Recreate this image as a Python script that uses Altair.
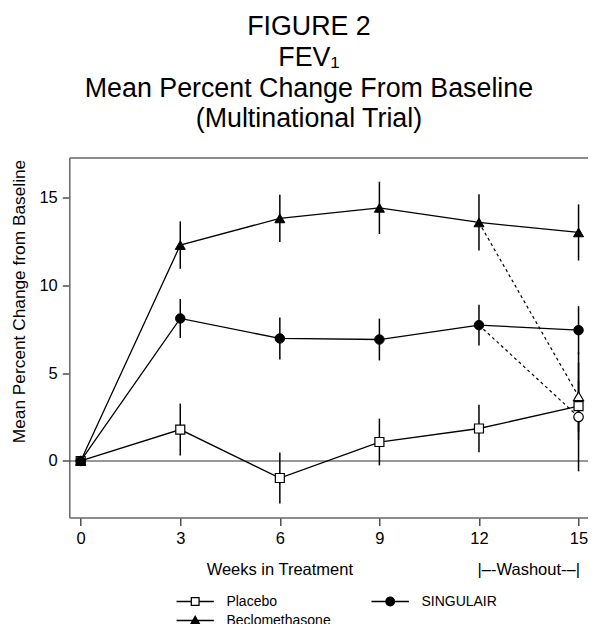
import altair as alt
import pandas as pd

FONT = "Liberation Sans"

# ---- data ----
weeks = [0, 3, 6, 9, 12, 15]
series_names = ["Placebo", "Beclomethasone", "SINGULAIR"]
placebo_mean = [0.0, 1.79, -0.97, 1.08, 1.85, 3.12]
placebo_err = [0.0, 1.48, 1.45, 1.33, 1.35, 1.45]
singulair_mean = [0.0, 8.12, 6.98, 6.92, 7.74, 7.45]
singulair_err = [0.0, 1.11, 1.20, 1.19, 1.16, 1.37]
beclo_mean = [0.0, 12.30, 13.82, 14.42, 13.59, 13.02]
beclo_err = [0.0, 1.35, 1.35, 1.49, 1.60, 1.60]
washout_from_week = 12
washout_week = 15
washout_singulair_mean = 2.51
washout_singulair_err = 3.10
washout_beclo_mean = 3.69
washout_beclo_err = 2.50
x_ticks = [0, 3, 6, 9, 12, 15]
y_ticks = [0, 5, 10, 15]
title_lines = ["FIGURE 2", "FEV\u2081", "Mean Percent Change From Baseline", "(Multinational Trial)"]
x_labels = ["Weeks in Treatment", "|\u2013-Washout-\u2013|"]
x_label_pos = [6, 13.5]

# ---- tables ----
rows = []
for name, m, e in [("Placebo", placebo_mean, placebo_err),
                   ("SINGULAIR", singulair_mean, singulair_err),
                   ("Beclomethasone", beclo_mean, beclo_err)]:
    for w, mv, ev in zip(weeks, m, e):
        rows.append({"series": name, "week": w, "mean": mv, "lo": mv - ev, "hi": mv + ev})
main = pd.DataFrame(rows)

wash = pd.DataFrame([
    {"series": "SINGULAIR", "week": washout_week, "mean": washout_singulair_mean,
     "lo": washout_singulair_mean - washout_singulair_err, "hi": washout_singulair_mean + washout_singulair_err},
    {"series": "Beclomethasone", "week": washout_week, "mean": washout_beclo_mean,
     "lo": washout_beclo_mean - washout_beclo_err, "hi": washout_beclo_mean + washout_beclo_err},
])
err_all = pd.concat([main[main["week"] > 0], wash], ignore_index=True)

s12 = main[(main["week"] == washout_from_week) & (main["series"] != "Placebo")][["series", "week", "mean"]]
dashed = pd.concat([s12, wash[["series", "week", "mean"]]], ignore_index=True)

legend_df = pd.DataFrame({"series": series_names, "week": [0] * 3, "mean": [0.0] * 3})
xlab_df = pd.DataFrame({"label": x_labels, "week": x_label_pos})
zero_df = pd.DataFrame({"mean": [0.0]})

# ---- scales / axes ----
xs = alt.Scale(domain=[-0.3435, 15.285], nice=False, zero=False)
ys = alt.Scale(domain=[-3.22, 17.29], nice=False, zero=False)
GRAY = "#6b6b6b"

x_bottom = alt.Axis(orient="bottom", values=x_ticks, tickSize=8, labelPadding=5,
                    labelFontSize=16.5, labelFont=FONT, labelColor="black", title=None,
                    grid=False, domainColor=GRAY, domainWidth=1.5, tickColor="#333",
                    tickWidth=1.3, labelFlush=False)
x_top = alt.Axis(orient="top", labels=False, ticks=False, title=None, grid=False,
                 domainColor=GRAY, domainWidth=1.5)
y_axis = alt.Axis(values=y_ticks, tickSize=7, labelPadding=5, labelFontSize=16.5,
                  labelFont=FONT, labelColor="black",
                  title="Mean Percent Change from Baseline", titleFont=FONT,
                  titleFontSize=17.3, titleFontWeight="normal", titleColor="black",
                  titlePadding=10, titleY=143.5, grid=False, domainColor=GRAY,
                  domainWidth=1.5, tickColor="#333", tickWidth=1.3)


def X(axis=None):
    return alt.X("week:Q", scale=xs, axis=axis)


def Y(field="mean"):
    return alt.Y(f"{field}:Q", scale=ys, axis=y_axis)


zero = alt.Chart(zero_df).mark_rule(color="#333", strokeWidth=1.2).encode(y=Y())

errbars = alt.Chart(err_all).mark_rule(color="black", strokeWidth=1.5).encode(
    x=X(x_bottom), y=Y("lo"), y2="hi:Q")

lines = alt.Chart(main).mark_line(color="black", strokeWidth=1.3).encode(
    x=X(x_top), y=Y(), detail="series:N", order="week:Q")

dash = alt.Chart(dashed).mark_line(color="black", strokeWidth=1.2, strokeDash=[3, 3]).encode(
    x=X(), y=Y(), detail="series:N")

squares = alt.Chart(main[main["series"] == "Placebo"]).mark_point(
    shape="square", size=81, filled=True, fill="white", stroke="black", strokeWidth=1.2,
    opacity=1).encode(x=X(), y=Y())

open_tri = alt.Chart(wash[wash["series"] == "Beclomethasone"]).mark_point(
    shape="triangle-up", size=100, filled=True, fill="white", stroke="black", strokeWidth=1.2,
    opacity=1).encode(x=X(), y=Y())

open_circ = alt.Chart(wash[wash["series"] == "SINGULAIR"]).mark_point(
    shape="circle", size=90, filled=True, fill="white", stroke="black", strokeWidth=1.2,
    opacity=1).encode(x=X(), y=Y())

tris = alt.Chart(main[main["series"] == "Beclomethasone"]).mark_point(
    shape="triangle-up", size=100, filled=True, fill="black", stroke="black", strokeWidth=1,
    opacity=1).encode(x=X(), y=Y())

circs = alt.Chart(main[main["series"] == "SINGULAIR"]).mark_point(
    shape="circle", size=90, filled=True, fill="black", stroke="black", strokeWidth=1,
    opacity=1).encode(x=X(), y=Y())

# legend glyphs: a short line through the marker, built only from filled areas
LINE_L = "M-4.15,-0.14H-1V0.14H-4.15Z"
LINE_R = "M1,-0.14H4.15V0.14H1Z"
LINE_FULL = "M-4.15,-0.14H4.15V0.14H-4.15Z"
legend_paths = [
    LINE_L + LINE_R + "M-1,-1H1V1H-1ZM-0.72,-0.72V0.72H0.72V-0.72Z",           # open square
    LINE_FULL + "M0,-1.25L1.15,0.8H-1.15Z",                                     # triangle
    LINE_FULL + "M-1.1,0A1.1,1.1,0,1,1,1.1,0A1.1,1.1,0,1,1,-1.1,0Z",          # circle
]

legend_layer = alt.Chart(legend_df).mark_point(
    filled=True, fill="black", strokeWidth=0, size=81, opacity=0
).encode(
    x=X(), y=Y(),
    shape=alt.Shape("series:N",
                    scale=alt.Scale(domain=series_names, range=legend_paths),
                    legend=alt.Legend(orient="none", legendX=118.9, legendY=437,
                                      columns=2, columnPadding=40, rowPadding=5,
                                      labelOffset=24.2, labelFontSize=14, labelFont=FONT,
                                      labelColor="black", title=None, symbolOpacity=1,
                                      symbolFillColor="black", symbolStrokeWidth=0,
                                      symbolSize=81, padding=0, labelLimit=0)),
)

xlabels = alt.Chart(xlab_df).mark_text(fontSize=16.5, font=FONT, color="black",
                                        align="center", baseline="middle").encode(
    x=X(), y=alt.value(412.5), text="label:N")

chart = alt.layer(
    zero, lines, dash, errbars, squares, open_tri, open_circ, tris, circs, legend_layer, xlabels
).resolve_axis(x="independent").properties(
    width=518.7,
    height=360,
    autosize=alt.AutoSizeParams(type="none"),
    padding={"left": 61.3, "top": 149.5, "right": 0, "bottom": 106.5},
    title=alt.TitleParams(text=title_lines, fontSize=26.8, font=FONT, fontWeight="normal",
                          lineHeight=30.8, anchor="middle", dx=-19.7, offset=24.3,
                          color="black", frame="group"),
).configure_view(stroke=None).configure(background="white")

chart.save("out.html", embed_options={"renderer": "svg", "actions": False})
